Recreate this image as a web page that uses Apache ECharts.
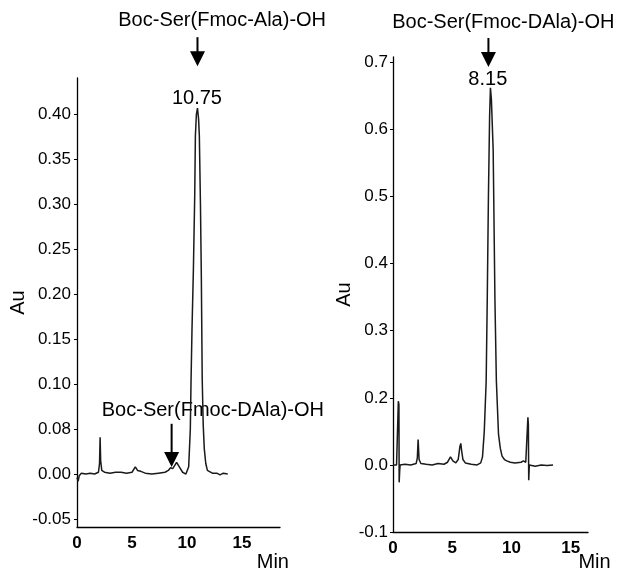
<!DOCTYPE html>
<html><head><meta charset="utf-8">
<script src="https://cdn.jsdelivr.net/npm/echarts@6/dist/echarts.min.js"></script>
<style>html,body{margin:0;padding:0;background:#fff}#c{width:619px;height:570px}</style>
</head><body><div id="c"></div>
<script>
// ---- Left chromatogram: Boc-Ser(Fmoc-Ala)-OH ----
const leftTime = [0,0.1,0.2,0.4,0.8,1.2,1.6,1.95,2.05,2.1,2.15,2.25,2.5,3,3.5,4,4.5,5.0,5.3,5.5,5.8,6.2,6.8,7.4,8.0,8.3,8.5,8.7,8.9,9.05,9.3,9.6,9.9,10.0,10.15,10.3,10.36,10.45,10.58,10.7,10.76,10.85,10.95,11.05,11.12,11.22,11.3,11.38,11.47,11.57,11.7,11.85,12.0,12.3,12.7,13.0,13.3,13.7];
const leftAu   = [-0.004,-0.008,-0.002,0.001,0.000,0.001,0.000,0.002,0.012,0.041,0.015,0.004,0.002,0.001,0.002,0.002,0.001,0.002,0.008,0.004,0.003,0.001,0.000,0.001,0.002,0.004,0.007,0.006,0.010,0.013,0.008,0.002,0.000,0.001,0.008,0.050,0.100,0.160,0.228,0.310,0.376,0.400,0.407,0.395,0.376,0.300,0.220,0.106,0.055,0.028,0.012,0.004,0.002,0.001,0.001,-0.001,0.001,0.000];
// ---- Right chromatogram: Boc-Ser(Fmoc-DAla)-OH ----
const rightTime = [0.0,0.3,0.42,0.45,0.5,0.52,0.56,0.6,1.0,1.5,1.95,2.05,2.12,2.2,2.35,2.8,3.3,3.8,4.3,4.6,4.85,5.05,5.3,5.5,5.65,5.72,5.8,5.9,6.1,6.6,7.1,7.4,7.55,7.7,7.86,7.95,8.05,8.15,8.22,8.3,8.45,8.6,8.72,8.9,9.05,9.2,9.4,9.6,9.9,10.3,10.8,11.0,11.2,11.35,11.38,11.42,11.45,11.5,12.0,12.5,13.0,13.5];
const rightAu   = [0.000,0.000,0.002,0.095,0.090,-0.026,-0.010,0.000,0.001,0.000,0.002,0.010,0.038,0.008,0.002,0.001,0.000,0.002,0.001,0.004,0.012,0.006,0.003,0.008,0.028,0.032,0.020,0.008,0.003,0.001,0.000,0.003,0.012,0.050,0.125,0.245,0.400,0.520,0.562,0.545,0.470,0.245,0.125,0.046,0.025,0.013,0.008,0.006,0.004,0.003,0.004,0.006,0.004,0.002,0.071,0.060,-0.023,0.000,-0.002,0.000,-0.001,0.000];

// ---- Axis ticks / labels ----
const xTickValues = [0, 5, 10, 15];
const leftTickValues = [-0.05, 0, 0.05, 0.10, 0.15, 0.20, 0.25, 0.30, 0.35, 0.40];
const leftTickLabels = ['-0.05','0.00','0.08','0.10','0.15','0.20','0.25','0.30','0.35','0.40'];
const rightTickValues = [-0.1, 0, 0.1, 0.2, 0.3, 0.4, 0.5, 0.6];
const rightTickLabels = ['-0.1','0.0','0.2','0.3','0.4','0.5','0.6','0.7'];

// ---- Annotations (data coordinates) ----
const peakLabels = [
  {grid: 0, text: '10.75', x: 10.9, y: 0.418},
  {grid: 1, text: '8.15', x: 8.0, y: 0.5746}
];
const titleLabels = [
  {grid: 0, text: 'Boc-Ser(Fmoc-Ala)-OH', x: 3.75, y: 0.504},
  {grid: 0, text: 'Boc-Ser(Fmoc-DAla)-OH', x: 2.25, y: 0.0707},
  {grid: 1, text: 'Boc-Ser(Fmoc-DAla)-OH', x: -0.07, y: 0.660}
];
const arrows = [
  {grid: 0, x: 10.95, from: 0.4859, to: 0.4537},
  {grid: 0, x: 8.6, from: 0.0559, to: 0.0078},
  {grid: 1, x: 8.05, from: 0.6363, to: 0.5930}
];

const FONT = '"Liberation Sans", Arial, Helvetica, sans-serif';
const zip = (a, b) => a.map((v, i) => [v, b[i]]);

const axisLineStyle = {show: true, onZero: false, lineStyle: {color: '#000', width: 1.3}};

function xAxis(gridIndex, max) {
  return {
    type: 'value', gridIndex, min: 0, max,
    axisLine: axisLineStyle,
    axisTick: {show: false},
    splitLine: {show: false},
    axisLabel: {customValues: xTickValues, color: '#000', fontFamily: FONT, fontSize: 17, fontWeight: 'bold', margin: 8}
  };
}
function yAxis(gridIndex, min, max, vals, labels, nameGap, margin) {
  return {
    type: 'value', gridIndex, min, max,
    name: 'Au', nameLocation: 'middle', nameGap,
    nameTextStyle: {color: '#000', fontFamily: FONT, fontSize: 20},
    axisLine: axisLineStyle,
    axisTick: {show: true, customValues: vals, length: 3, lineStyle: {color: '#000', width: 1}},
    splitLine: {show: false},
    axisLabel: {customValues: vals, color: '#000', fontFamily: FONT, fontSize: 17, margin,
      formatter: v => { const i = vals.findIndex(t => Math.abs(t - v) < 1e-9); return i >= 0 ? labels[i] : ''; }}
  };
}

const chart = echarts.init(document.getElementById('c'), null, {renderer: 'canvas'});
chart.setOption({
  animation: false,
  backgroundColor: '#fff',
  grid: [
    {left: 77, top: 78, width: 203, height: 449, outerBoundsMode: 'none'},
    {left: 393, top: 57, width: 195, height: 475, outerBoundsMode: 'none'}
  ],
  xAxis: [xAxis(0, 18.45), xAxis(1, 16.45)],
  yAxis: [
    yAxis(0, -0.0589, 0.4405, leftTickValues, leftTickLabels, 43, 6),
    yAxis(1, -0.1, 0.608, rightTickValues, rightTickLabels, 37, 5)
  ],
  series: [
    {type: 'line', xAxisIndex: 0, yAxisIndex: 0, data: zip(leftTime, leftAu), showSymbol: false,
     lineStyle: {color: '#1a1a1a', width: 1.5}, clip: false},
    {type: 'line', xAxisIndex: 1, yAxisIndex: 1, data: zip(rightTime, rightAu), showSymbol: false,
     lineStyle: {color: '#1a1a1a', width: 1.5}, clip: false}
  ]
});

function px(grid, x, y) { return chart.convertToPixel({gridIndex: grid}, [x, y]); }
const g = [];
titleLabels.forEach(t => {
  const p = px(t.grid, t.x, t.y);
  g.push({type: 'text', x: p[0], y: p[1], style: {text: t.text, fill: '#000', fontFamily: FONT, fontSize: 20, align: 'left', verticalAlign: 'middle'}});
});
peakLabels.forEach(t => {
  const p = px(t.grid, t.x, t.y);
  g.push({type: 'text', x: p[0], y: p[1], style: {text: t.text, fill: '#000', fontFamily: FONT, fontSize: 20, align: 'center', verticalAlign: 'middle'}});
});
arrows.forEach(a => {
  const p1 = px(a.grid, a.x, a.from), p2 = px(a.grid, a.x, a.to);
  const hh = 15, hw = 7.5;
  g.push({type: 'line', shape: {x1: p1[0], y1: p1[1], x2: p2[0], y2: p2[1] - hh + 1}, style: {stroke: '#000', lineWidth: 2}});
  g.push({type: 'polygon', shape: {points: [[p2[0] - hw, p2[1] - hh], [p2[0] + hw, p2[1] - hh], [p2[0], p2[1]]]}, style: {fill: '#000'}});
});
// "Min" axis captions below each x axis end
[[0, 17.8], [1, 17.0]].forEach(([gi, xv]) => {
  const p = px(gi, xv, 0);
  g.push({type: 'text', x: p[0], y: 562, style: {text: 'Min', fill: '#000', fontFamily: FONT, fontSize: 20, align: 'center', verticalAlign: 'middle'}});
});
chart.setOption({graphic: g});
</script>
</body></html>
